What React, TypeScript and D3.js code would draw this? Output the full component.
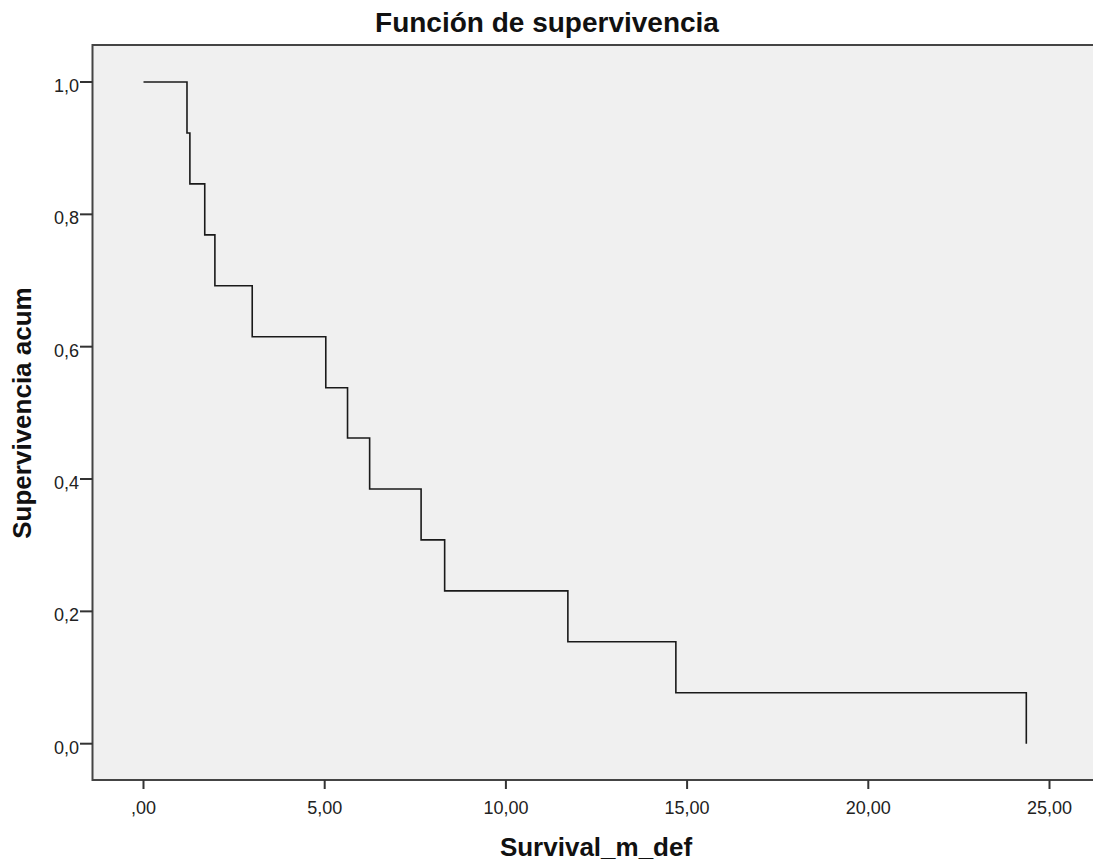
import React from "react";
import * as d3 from "d3";

const eventTimes = [0, 1.2, 1.28, 1.69, 1.97, 3.0, 5.03, 5.63, 6.24, 7.66, 8.31, 11.71, 14.69, 24.36];
const survival = [1.0, 0.923, 0.846, 0.769, 0.692, 0.615, 0.538, 0.462, 0.385, 0.308, 0.231, 0.154, 0.077, 0.0];
const xTicks = [0, 5, 10, 15, 20, 25];
const yTicks = [0, 0.2, 0.4, 0.6, 0.8, 1.0];
const title = "Función de supervivencia";
const xLabel = "Survival_m_def";
const yLabel = "Supervivencia acum";

const W = 1093;
const H = 867;
const frame = { left: 92.5, top: 45, bottom: 780, right: 1100 };

export default function App() {
  const x = d3.scaleLinear().domain([0, 25]).range([143.5, 1049.5]);
  const y = d3.scaleLinear().domain([0, 1]).range([743.7, 82]);

  const pts: [number, number][] = eventTimes.map((t, i) => [t, survival[i]]);
  const line = d3
    .line<[number, number]>()
    .x((d) => x(d[0]))
    .y((d) => y(d[1]))
    .curve(d3.curveStepAfter);

  const fmtX = (v: number) => (v === 0 ? ",00" : v.toFixed(2).replace(".", ","));
  const fmtY = (v: number) => v.toFixed(1).replace(".", ",");
  const font = "'Liberation Sans', Arial, sans-serif";

  return (
    <svg
      width={W}
      height={H}
      style={{ position: "absolute", left: 0, top: 0, background: "#fff" }}
      fontFamily={font}
    >
      <rect
        x={frame.left}
        y={frame.top}
        width={frame.right - frame.left}
        height={frame.bottom - frame.top}
        fill="#f0f0f0"
        stroke="#444"
        strokeWidth={2}
      />
      <path d={line(pts) || ""} fill="none" stroke="#1a1a1a" strokeWidth={1.6} />
      {yTicks.map((v) => (
        <g key={"y" + v}>
          <line x1={80} x2={frame.left} y1={y(v)} y2={y(v)} stroke="#333" strokeWidth={2} />
          <text x={79} y={y(v) + 10} textAnchor="end" fontSize={18} fill="#222">
            {fmtY(v)}
          </text>
        </g>
      ))}
      {xTicks.map((v) => (
        <g key={"x" + v}>
          <line x1={x(v)} x2={x(v)} y1={frame.bottom} y2={789} stroke="#333" strokeWidth={2} />
          <text x={x(v)} y={814} textAnchor="middle" fontSize={18} fill="#222">
            {fmtX(v)}
          </text>
        </g>
      ))}
      <text x={547} y={32} textAnchor="middle" fontSize={28} fontWeight="bold" fill="#111">
        {title}
      </text>
      <text x={596} y={856} textAnchor="middle" fontSize={26} fontWeight="bold" fill="#111">
        {xLabel}
      </text>
      <text
        transform={`translate(31, 413) rotate(-90)`}
        textAnchor="middle"
        fontSize={26}
        fontWeight="bold"
        fill="#111"
      >
        {yLabel}
      </text>
    </svg>
  );
}
